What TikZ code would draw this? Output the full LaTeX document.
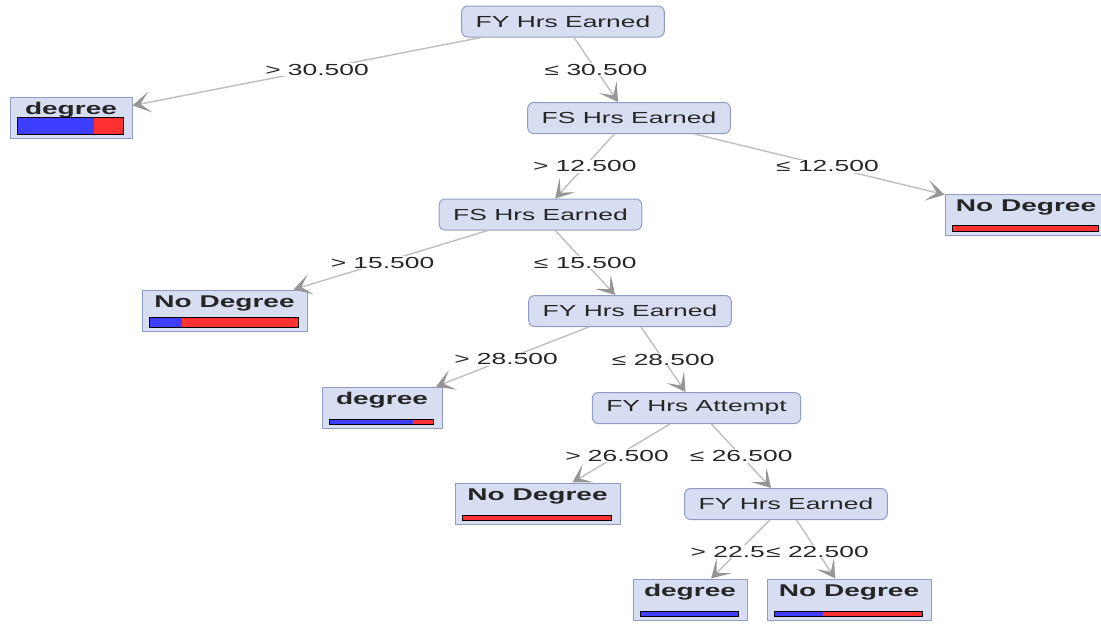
\documentclass[tikz,border=0pt]{standalone}
\usepackage{fontspec}
\setmainfont[FakeStretch=1.65]{Liberation Sans}
\usetikzlibrary{arrows.meta,calc}

\definecolor{nodefill}{RGB}{215,222,241}
\definecolor{nodeline}{RGB}{145,156,196}
\definecolor{edgegray}{RGB}{190,190,190}
\definecolor{tipgray}{RGB}{150,150,150}
\definecolor{barblue}{RGB}{62,62,255}
\definecolor{barred}{RGB}{255,48,48}

\tikzset{
  split/.style={draw=nodeline,fill=nodefill,rounded corners=6pt,line width=1pt,
    minimum height=31pt,inner xsep=14pt,text=black!85},
  leaf/.style={draw=nodeline,fill=nodefill,line width=1pt,minimum height=41pt,inner sep=0pt},
  leaftext/.style={anchor=base,inner sep=0pt,font=\bfseries\fontsize{17}{20}\selectfont,text=black!85},
  edge/.style={draw=edgegray,line width=1.4pt,
    -{Stealth[length=18pt,width=21pt,inset=10pt,color=tipgray]}},
  cond/.style={fill=white,inner sep=1pt,text=black!85},
}

\begin{document}
\begin{tikzpicture}[x=1pt,y=-1pt,font=\fontsize{16}{19}\selectfont]
\useasboundingbox (0,0) rectangle (1101,624);
\clip (0,0) rectangle (1101,624);
% split nodes
\node[split] (root) at (563,21.5) {FY Hrs Earned};
\node[split] (fsA) at (629,118) {FS Hrs Earned};
\node[split] (fsB) at (540.5,214.5) {FS Hrs Earned};
\node[split] (fyA) at (630,311) {FY Hrs Earned};
\node[split] (att) at (696.5,408) {FY Hrs Attempt};
\node[split] (fyB) at (786,504) {FY Hrs Earned};
% leaves: name/x/y/width/text/bar height/blue share
\foreach \n/\x/\y/\w/\t/\h/\f in {dgA/71/117.5/122/degree/17/.72,
    ndA/1026/214.5/162/No Degree/6/0, ndB/224.5/310.5/165/No Degree/10/.22,
    dgB/382/407.5/120/degree/5/.8, ndC/537.5/503.5/165/No Degree/5/0,
    dgC/690/599.5/114/degree/5/1, ndD/849/599.5/164/No Degree/5/.33}{
  \node[leaf,minimum width=\w pt] (\n) at (\x,\y) {};
  \node[leaftext] at ([yshift=-18pt]\n.north) {\t};
  \coordinate (\n-bl) at ([xshift=8pt,yshift=4pt]\n.south west);
  \coordinate (\n-tr) at ([xshift=-9pt,yshift={(4+\h)*1pt}]\n.south east);
  \fill[barred] (\n-bl) rectangle (\n-tr);
  \fill[barblue] (\n-bl) rectangle ($(\n-bl|-\n-tr)!\f!(\n-tr)$);
  \draw[line width=1.2pt] (\n-bl) rectangle (\n-tr);
}
% edges
\foreach \a/\b in {root/dgA,root/fsA,fsA/fsB,fsA/ndA,fsB/ndB,fsB/fyA,
    fyA/dgB,fyA/att,att/ndC,att/fyB,fyB/dgC,fyB/ndD}
  \draw[edge] (\a) -- (\b);
% conditions
\node[cond] at ($(root)!.5!(dgA)$) {> 30.500};
\node[cond] at ($(root)!.5!(fsA)$) {≤ 30.500};
\node[cond] at ($(fsA)!.5!(fsB)$) {> 12.500};
\node[cond] at ($(fsA)!.5!(ndA)$) {≤ 12.500};
\node[cond] at ($(fsB)!.5!(ndB)$) {> 15.500};
\node[cond] at ($(fsB)!.5!(fyA)$) {≤ 15.500};
\node[cond] at ($(fyA)!.5!(dgB)$) {> 28.500};
\node[cond] at ($(fyA)!.5!(att)$) {≤ 28.500};
\node[cond] at ($(att)!.5!(ndC)$) {> 26.500};
\node[cond] at ($(att)!.5!(fyB)$) {≤ 26.500};
\node[cond] (leD) at ($(fyB)!.5!(ndD)$) {≤ 22.500};
\node[cond,anchor=east,inner xsep=0pt] at (leD.west) {> 22.5};
\end{tikzpicture}
\end{document}
